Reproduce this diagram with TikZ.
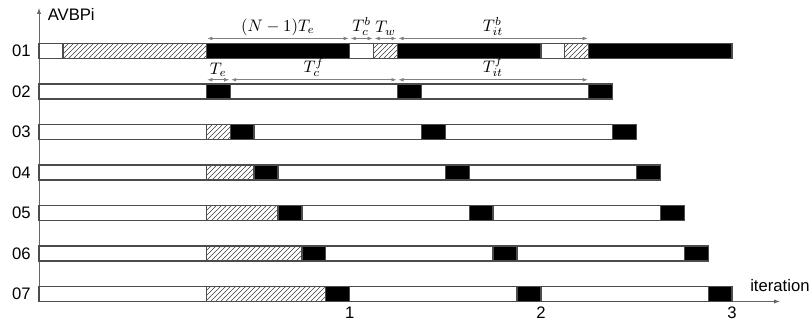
\documentclass[tikz,border=0pt]{standalone}
\usepackage{fontspec}
\setsansfont{Liberation Sans}
\usetikzlibrary{arrows.meta,patterns}

\begin{document}
\begin{tikzpicture}[x=14.34pt,y=24.3pt,
    bar/.style={draw=black!70,line width=0.8pt},
    hatch/.style={bar,pattern=north east lines,pattern color=black!75},
    busy/.style={bar,fill=black},
    dim/.style={gray,line width=0.4pt,{Latex[length=3pt,width=2.2pt]}-{Latex[length=3pt,width=2.2pt]},
      shorten >=0.6pt,shorten <=0.6pt},
    dimlab/.style={midway,above,inner sep=1.6pt,text=black},
    axis/.style={gray!80!black,line width=0.5pt,-{Latex[length=3.5pt,width=2.5pt]}},
    lab/.style={font=\sffamily}]
    \def\h{0.185}
    \def\ya{0.31}
    \def\yb{-0.71}
    \useasboundingbox (-1.632,1.259) rectangle (32.30,-6.815);
    %axis
    \coordinate (o) at (0,-6-\h);
    \coordinate (ytip) at (0,1.062);
    \coordinate (xtip) at (31.0,-6-\h);
    \draw[axis] (o) -- (ytip);
    \draw[axis] (o) -- (xtip);
    \node[lab,right] (ylab) at (0.12,0.89) {AVBPi};
    \node[lab] (xlab) at (31.0,-5.80) {iteration};
    \node[lab] (t1) at (13,-6.47) {1};
    \node[lab] (t2) at (21,-6.47) {2};
    \node[lab] (t3) at (29,-6.47) {3};
    % processor 01
    \draw[bar,fill=white] (0,\h) rectangle (29,-\h);
    \draw[hatch] (1,\h) rectangle (7,-\h);
    \draw[busy] (7,\h) rectangle (13,-\h);
    \draw[hatch] (14,\h) rectangle (15,-\h);
    \draw[busy] (15,\h) rectangle (21,-\h);
    \draw[hatch] (22,\h) rectangle (23,-\h);
    \draw[busy] (23,\h) rectangle (29,-\h);
    % processors 02 to 07
    \foreach \r in {2,...,7}{
      \pgfmathsetmacro\j{\r-2}
      \pgfmathsetmacro\y{1-\r}
      \draw[bar,fill=white] (0,\y+\h) rectangle (24+\j,\y-\h);
      \ifnum\r>2
        \draw[hatch] (7,\y+\h) rectangle (7+\j,\y-\h);
      \fi
      \draw[busy] (7+\j,\y+\h) rectangle (8+\j,\y-\h);
      \draw[busy] (15+\j,\y+\h) rectangle (16+\j,\y-\h);
      \draw[busy] (23+\j,\y+\h) rectangle (24+\j,\y-\h);
    }
    % labels of the rows
    \foreach \r in {1,...,7}{
      \node[lab,left] (row\r) at (-0.1,1-\r) {0\r};
    }
    % lengths
    \coordinate (a0) at (7,\ya);
    \coordinate (a1) at (13,\ya);
    \coordinate (a2) at (14,\ya);
    \coordinate (a3) at (15,\ya);
    \coordinate (a4) at (23,\ya);
    \coordinate (b0) at (7,\yb);
    \coordinate (b1) at (8,\yb);
    \coordinate (b2) at (15,\yb);
    \coordinate (b3) at (23,\yb);
    \draw[dim] (a0) to node[dimlab] (lne) {$(N-1)T_e$} (a1);
    \draw[dim] (a1) to node[dimlab] (lcb) {$T_c^b$} (a2);
    \draw[dim] (a2) to node[dimlab] (lw) {$T_w$} (a3);
    \draw[dim] (a3) to node[dimlab] (litb) {$T_{it}^b$} (a4);
    \draw[dim] (b0) to node[dimlab] (le) {$T_e$} (b1);
    \draw[dim] (b1) to node[dimlab] (lcf) {$T_c^f$} (b2);
    \draw[dim] (b2) to node[dimlab] (litf) {$T_{it}^f$} (b3);
\end{tikzpicture}
\end{document}
